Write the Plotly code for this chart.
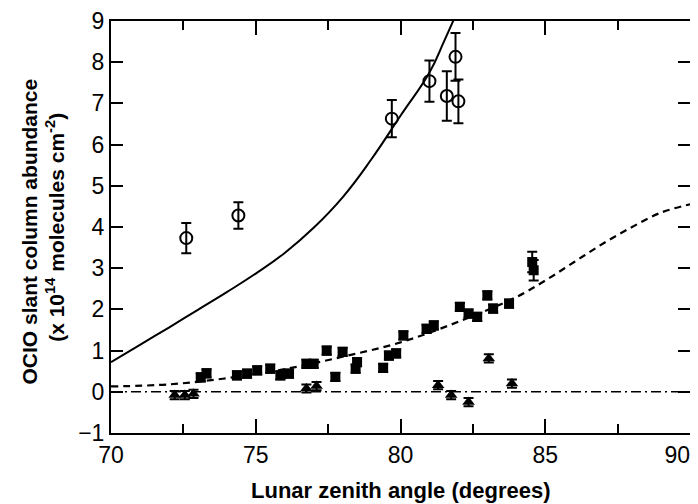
import plotly.graph_objects as go

# Open circles (with error bars)
circ_x = [72.6, 74.4, 79.7, 81.0, 81.6, 81.9, 82.0]
circ_y = [3.73, 4.28, 6.63, 7.54, 7.18, 8.13, 7.05]
circ_err = [0.37, 0.32, 0.45, 0.50, 0.60, 0.58, 0.53]

# Filled squares
sq_x = [73.1, 73.3, 74.35, 74.7, 75.05, 75.5, 75.85, 76.15, 76.75, 77.0, 77.45, 77.75,
        78.0, 78.45, 78.5, 79.4, 79.6, 79.85, 80.1, 80.9, 81.15, 82.05, 82.35, 82.65,
        83.0, 83.2, 83.75, 84.55, 84.6]
sq_y = [0.35, 0.45, 0.40, 0.44, 0.52, 0.56, 0.40, 0.44, 0.68, 0.68, 1.00, 0.36,
        0.97, 0.56, 0.72, 0.58, 0.88, 0.93, 1.37, 1.53, 1.61, 2.06, 1.90, 1.82,
        2.34, 2.02, 2.14, 3.15, 2.95]
sq_err = [0.10] * 27 + [0.25, 0.25]

# Filled triangles
tri_x = [72.2, 72.55, 72.85, 76.75, 77.1, 81.3, 81.75, 82.35, 83.05, 83.85]
tri_y = [-0.08, -0.08, -0.05, 0.08, 0.14, 0.16, -0.08, -0.25, 0.81, 0.20]
tri_err = [0.10] * 10

# Model curves
solid_x = [70, 71, 72, 73, 74, 75, 76, 77, 78, 79, 80, 81, 81.5, 81.85]
solid_y = [0.72, 1.14, 1.56, 1.99, 2.42, 2.87, 3.37, 3.98, 4.72, 5.65, 6.70, 7.75, 8.50, 9.05]

dash_x = [70, 72, 74, 76, 78, 80, 82, 84, 85, 86, 87, 88, 89, 90]
dash_y = [0.13, 0.18, 0.33, 0.55, 0.85, 1.20, 1.70, 2.30, 2.70, 3.15, 3.60, 4.00, 4.35, 4.55]

zero_x = [70, 90]
zero_y = [0, 0]

x_tickvals = [70, 75, 80, 85, 90]
x_ticktext = ["70", "75", "80", "85", "90\u00a0\u00a0\u00a0\u00a0"]

fig = go.Figure()

fig.add_trace(go.Scatter(x=zero_x, y=zero_y, mode="lines",
                         line=dict(color="black", width=1.5, dash="10px,4px,2px,4px")))
fig.add_trace(go.Scatter(x=dash_x, y=dash_y, mode="lines", line_shape="spline",
                         line=dict(color="black", width=2.2, dash="7px,5px")))
fig.add_trace(go.Scatter(x=solid_x, y=solid_y, mode="lines", line_shape="spline",
                         line=dict(color="black", width=2, smoothing=1.3)))

fig.add_trace(go.Scatter(x=sq_x, y=sq_y, mode="markers",
                         marker=dict(symbol="square", size=10, color="black"),
                         error_y=dict(type="data", array=sq_err, color="black",
                                      thickness=2, width=5)))
fig.add_trace(go.Scatter(x=tri_x, y=tri_y, mode="markers",
                         marker=dict(symbol="triangle-up", size=11, color="black"),
                         error_y=dict(type="data", array=tri_err, color="black",
                                      thickness=2, width=5)))
fig.add_trace(go.Scatter(x=circ_x, y=circ_y, mode="markers",
                         marker=dict(symbol="circle-open", size=12, color="black",
                                     line=dict(width=2, color="black")),
                         error_y=dict(type="data", array=circ_err, color="black",
                                      thickness=2, width=5)))

font_family = "Liberation Sans, Arial, sans-serif"

fig.update_layout(
    width=690, height=496,
    margin=dict(l=103, r=8, t=13, b=71),
    paper_bgcolor="white", plot_bgcolor="white",
    showlegend=False,
    font=dict(family=font_family, color="black", size=22),
    xaxis=dict(range=[70, 90], tickvals=x_tickvals, ticktext=x_ticktext, automargin=False,
               ticks="inside", ticklen=14, tickwidth=1.5, tickcolor="black",
               minor=dict(tickvals=[72.5, 77.5, 82.5, 87.5], ticks="inside",
                          ticklen=9, tickwidth=1.5, tickcolor="black"),
               showline=True, linecolor="black", linewidth=2, mirror="ticks",
               showgrid=False, zeroline=False, ticklabeloverflow="allow",
               tickfont=dict(size=23, family=font_family)),
    yaxis=dict(range=[-1, 9], dtick=1, automargin=False,
               ticks="inside", ticklen=12, tickwidth=1.5, tickcolor="black",
               showline=True, linecolor="black", linewidth=2, mirror="ticks",
               showgrid=False, zeroline=False,
               tickfont=dict(size=23, family=font_family)),
    annotations=[
        dict(text="<b>Lunar zenith angle (degrees)</b>", xref="paper", yref="paper",
             x=0.5, y=-0.14, xanchor="center", yanchor="middle", showarrow=False,
             font=dict(size=22, family=font_family)),
        dict(text="<b>OCIO slant column abundance</b>", xref="paper", yref="paper",
             x=-0.141, y=0.49, xanchor="center", yanchor="middle", textangle=-90,
             showarrow=False, font=dict(size=21, family=font_family)),
        dict(text="<b>(x 10<sup>14</sup> molecules cm<sup>-2</sup>)</b>", xref="paper",
             yref="paper", x=-0.097, y=0.50, xanchor="center", yanchor="middle",
             textangle=-90, showarrow=False, font=dict(size=21, family=font_family)),
    ],
)

fig.write_html("out.html")
